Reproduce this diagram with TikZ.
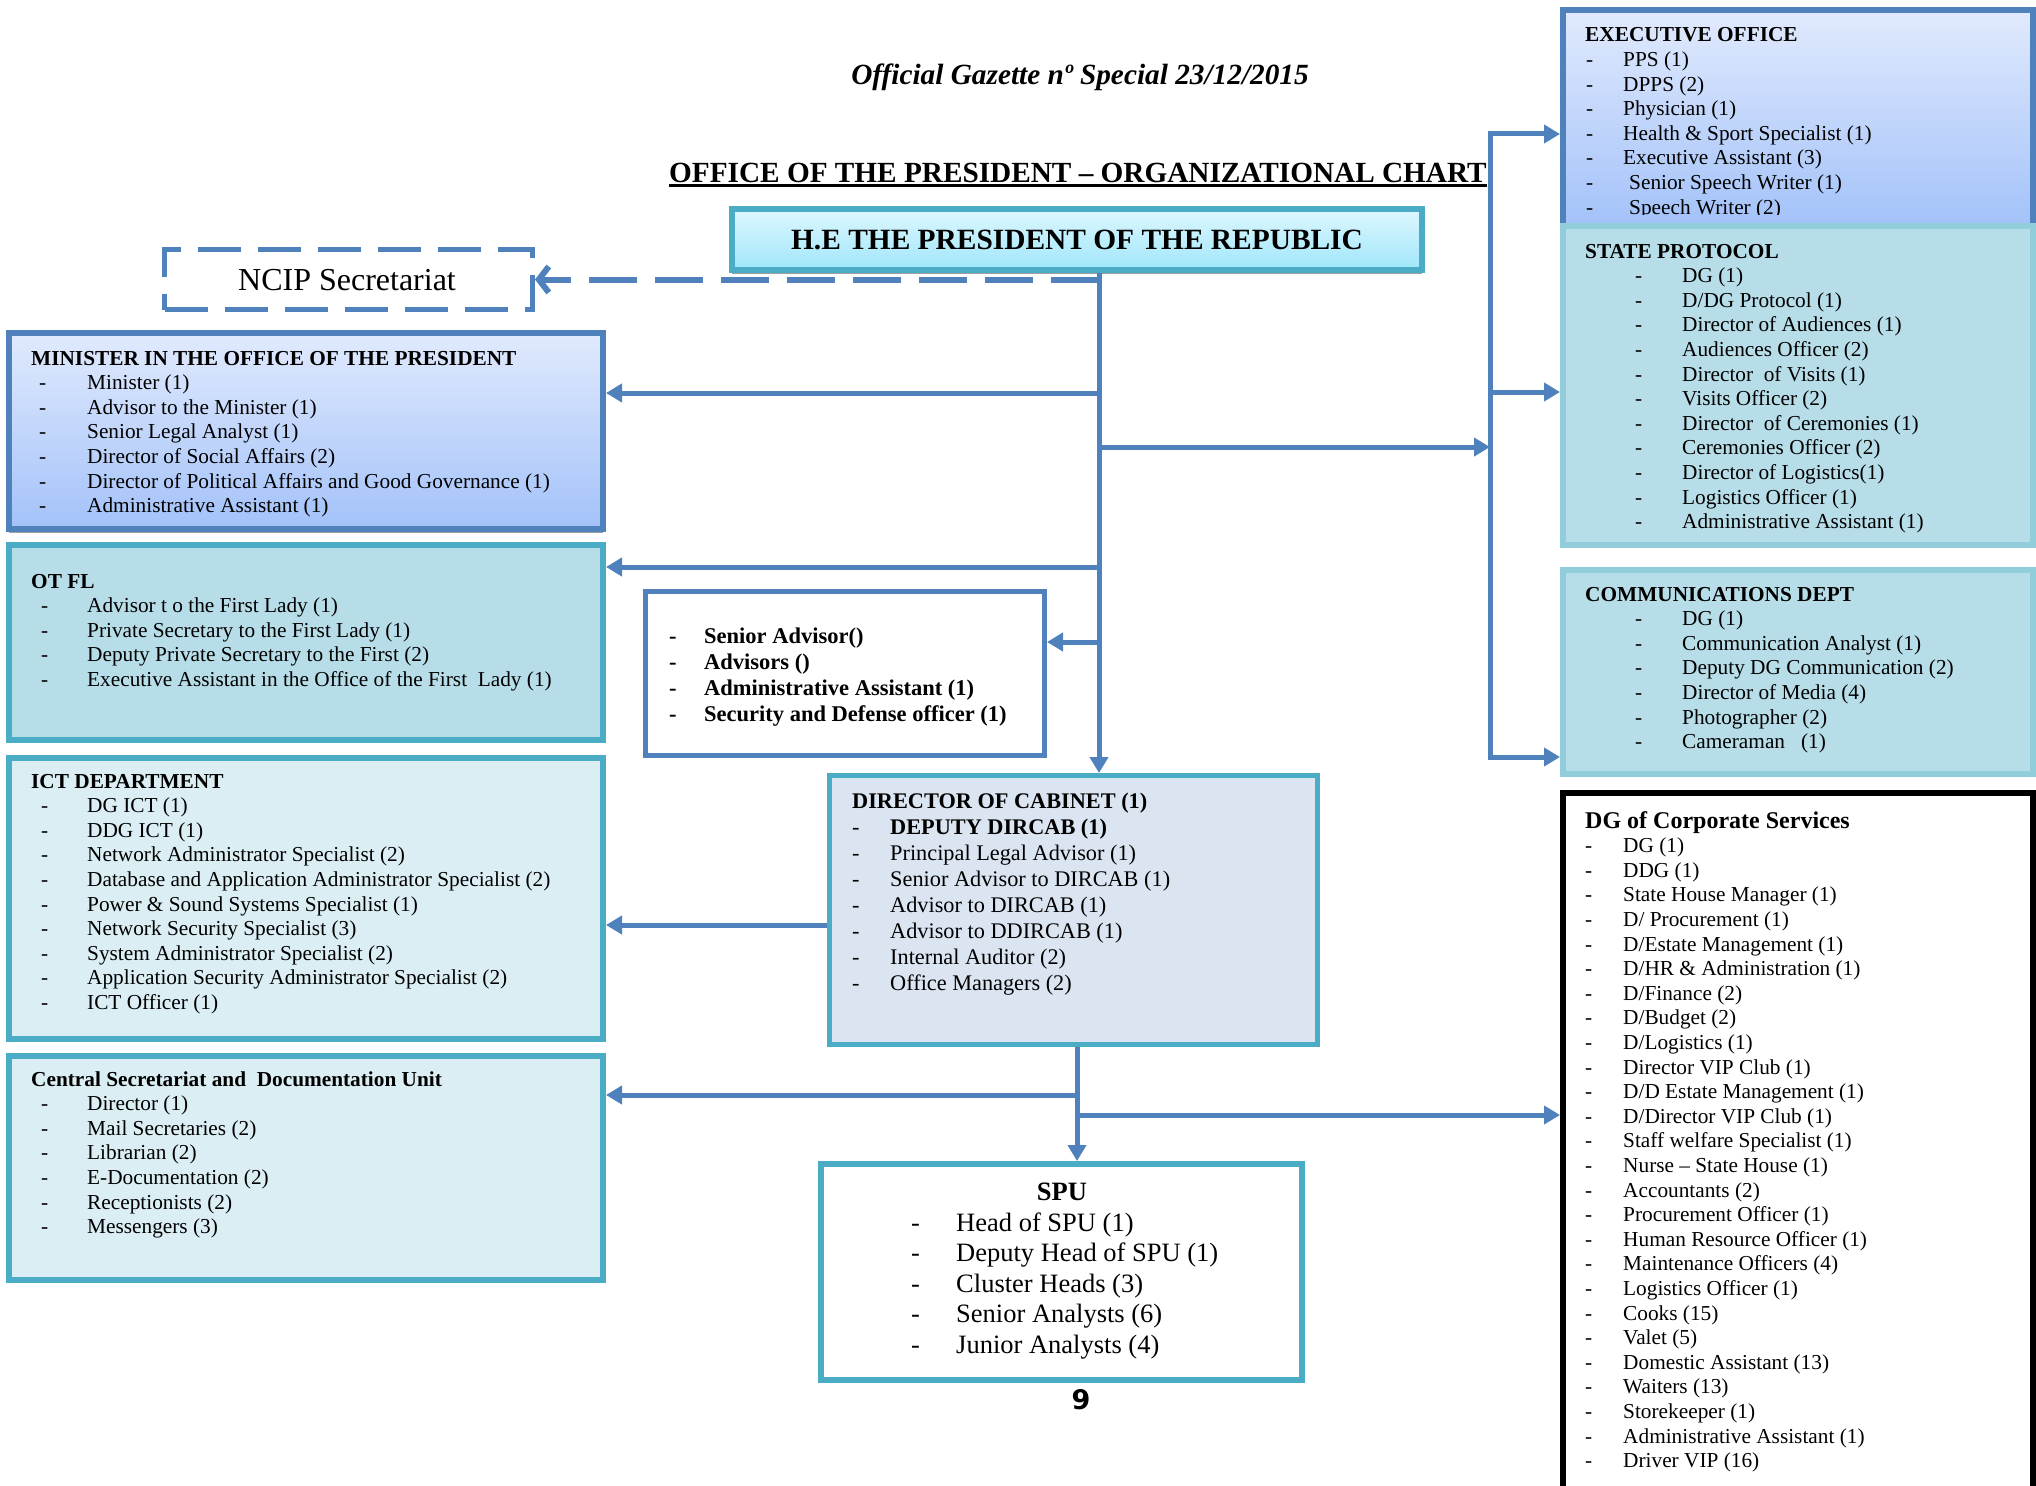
\documentclass[tikz,border=0pt]{standalone}
\usepackage{fontspec}
\setmainfont{Liberation Serif}
\newfontfamily\numfont{DejaVu Sans}
\usetikzlibrary{arrows.meta,shadows}
\definecolor{cblue}{HTML}{4F81BD}
\definecolor{cteal}{HTML}{4BACC6}
\definecolor{clteal}{HTML}{92CDDC}
\definecolor{fteal}{HTML}{B7DDE8}
\definecolor{fpale}{HTML}{DAEEF3}
\definecolor{fdir}{HTML}{DBE5F1}
\definecolor{gtop}{HTML}{E1EAFD}
\definecolor{gbot}{HTML}{A3C2F9}
\definecolor{ptop}{HTML}{DDF7FE}
\definecolor{pbot}{HTML}{A0E6FB}
\tikzset{
  boxbase/.style={rectangle, inner sep=0pt, anchor=north west},
  bluegrad/.style={draw=cblue, top color=gtop, bottom color=gbot},
  presgrad/.style={draw=cteal, top color=ptop, bottom color=pbot},
  sh/.style={drop shadow={shadow xshift=0pt, shadow yshift=-4pt, fill=black!38, opacity=1}},
  line/.style={draw=cblue, line width=5pt},
  conn/.style={line, ->},
  dconn/.style={draw=cblue, line width=6pt, dash pattern=on 48pt off 18pt, -{Straight Barb[length=10pt,width=26pt]}},
  lst/.style={anchor=base west, inner sep=0pt, font=\fontsize{21.3}{24.6}\selectfont},
}
\newcommand\mkbox[7]{\node[boxbase,#2,line width=#7pt,minimum width=#5-#3-#7,minimum height=#6-#4-#7] (#1) at (#3,#4) {};}
\begin{document}
\begin{tikzpicture}[x=1pt,y=-1pt,>={Triangle[length=16pt,width=18pt]}]
\useasboundingbox (0,0) rectangle (2036,1485);
\fill[white] (0,0) rectangle (2036,1485);

% titles
\node[anchor=base, inner sep=0pt, font=\fontsize{29.3}{34}\selectfont\bfseries\itshape] (gaz) at (1080,85) {Official Gazette nº Special 23/12/2015};
\node[anchor=base west, inner sep=0pt, font=\fontsize{29.25}{34}\selectfont\bfseries] (ttl) at (669,182) {OFFICE OF THE PRESIDENT – ORGANIZATIONAL CHART};
\draw[line width=3pt] ([yshift=-3.5pt]ttl.base west) -- ([yshift=-3.5pt]ttl.base east);

% boxes
\mkbox{ncip}{draw=cblue, fill=white, dash pattern=on 43pt off 17pt}{162}{247}{535}{312}{5}
\mkbox{pres}{presgrad, sh}{729}{206}{1425}{273}{6}
\mkbox{min}{bluegrad, sh}{6}{330}{606}{532}{6}
\mkbox{otfl}{draw=cteal, fill=fteal}{6}{542}{606}{743}{6}
\mkbox{ict}{draw=cteal, fill=fpale}{6}{755}{606}{1042}{6}
\mkbox{cs}{draw=cteal, fill=fpale}{6}{1053}{606}{1283}{6}
\mkbox{sa}{draw=cblue, fill=white}{643}{589}{1047}{758}{5}
\mkbox{dir}{draw=cteal, fill=fdir}{827}{773}{1320}{1047}{5}
\mkbox{spu}{draw=cteal, fill=white}{818}{1161}{1305}{1383}{6}
\mkbox{ex}{bluegrad}{1560}{7}{2036}{229}{6}
\mkbox{sp}{draw=clteal, fill=fteal}{1560}{223}{2036}{548}{6}
\mkbox{cm}{draw=clteal, fill=fteal}{1560}{567}{2036}{777}{6}
\mkbox{dg}{draw=black, fill=white}{1560}{790}{2036}{1495}{6}

% box texts
\node[anchor=base, inner sep=0pt, font=\fontsize{32}{36}\selectfont] (ncipT) at (347,290) {NCIP Secretariat};
\node[anchor=base, inner sep=0pt, font=\fontsize{29.4}{34}\selectfont\bfseries] (presT) at (1077,249) {H.E THE PRESIDENT OF THE REPUBLIC};

\node[lst] (minT) at (31,365) {\def\itm{\hspace*{8pt}\makebox[48pt][l]{-}}\begin{tabular}[t]{@{}l@{}}
\textbf{MINISTER IN THE OFFICE OF THE PRESIDENT}\\
\itm Minister (1)\\
\itm Advisor to the Minister (1)\\
\itm Senior Legal Analyst (1)\\
\itm Director of Social Affairs (2)\\
\itm Director of Political Affairs and Good Governance (1)\\
\itm Administrative Assistant (1)
\end{tabular}};

\node[lst] (otflT) at (31,588) {\def\itm{\hspace*{10pt}\makebox[46pt][l]{-}}\begin{tabular}[t]{@{}l@{}}
\textbf{OT FL}\\
\itm Advisor t o the First Lady (1)\\
\itm Private Secretary to the First Lady (1)\\
\itm Deputy Private Secretary to the First (2)\\
\itm Executive Assistant in the Office of the First\ \ Lady (1)
\end{tabular}};

\node[lst] (ictT) at (31,788) {\def\itm{\hspace*{10pt}\makebox[46pt][l]{-}}\begin{tabular}[t]{@{}l@{}}
\textbf{ICT DEPARTMENT}\\
\itm DG ICT (1)\\
\itm DDG ICT (1)\\
\itm Network Administrator Specialist (2)\\
\itm Database and Application Administrator Specialist (2)\\
\itm Power \& Sound Systems Specialist (1)\\
\itm Network Security Specialist (3)\\
\itm System Administrator Specialist (2)\\
\itm Application Security Administrator Specialist (2)\\
\itm ICT Officer (1)
\end{tabular}};

\node[lst] (csT) at (31,1086) {\def\itm{\hspace*{10pt}\makebox[46pt][l]{-}}\begin{tabular}[t]{@{}l@{}}
\textbf{Central Secretariat and\ \ Documentation Unit}\\
\itm Director (1)\\
\itm Mail Secretaries (2)\\
\itm Librarian (2)\\
\itm E-Documentation (2)\\
\itm Receptionists (2)\\
\itm Messengers (3)
\end{tabular}};

\node[lst, font=\fontsize{22.5}{26.3}\selectfont\bfseries] (saT) at (669,643) {\def\itm{\makebox[35pt][l]{-}}\begin{tabular}[t]{@{}l@{}}
\itm Senior Advisor()\\
\itm Advisors ()\\
\itm Administrative Assistant (1)\\
\itm Security and Defense officer (1)
\end{tabular}};

\node[lst, font=\fontsize{22.3}{26}\selectfont] (dirT) at (852,808) {\def\itm{\makebox[38pt][l]{-}}\begin{tabular}[t]{@{}l@{}}
\textbf{DIRECTOR OF CABINET (1)}\\
\itm\textbf{DEPUTY DIRCAB (1)}\\
\itm Principal Legal Advisor (1)\\
\itm Senior Advisor to DIRCAB (1)\\
\itm Advisor to DIRCAB (1)\\
\itm Advisor to DDIRCAB (1)\\
\itm Internal Auditor (2)\\
\itm Office Managers (2)
\end{tabular}};

\node[anchor=base, inner sep=0pt, font=\fontsize{26.5}{30.5}\selectfont\bfseries] (spuH) at (1062,1200) {SPU};
\node[lst, font=\fontsize{26.5}{30.5}\selectfont] (spuT) at (911,1231) {\def\itm{\makebox[45pt][l]{-}}\begin{tabular}[t]{@{}l@{}}
\itm Head of SPU (1)\\
\itm Deputy Head of SPU (1)\\
\itm Cluster Heads (3)\\
\itm Senior Analysts (6)\\
\itm Junior Analysts (4)
\end{tabular}};

\begin{scope}
\clip (1560,0) rectangle (2036,214.5);
\node[lst] (exT) at (1585,42) {\def\itm{\hspace*{1pt}\makebox[37pt][l]{-}}\begin{tabular}[t]{@{}l@{}}
\textbf{EXECUTIVE OFFICE}\\
\itm PPS (1)\\
\itm DPPS (2)\\
\itm Physician (1)\\
\itm Health \& Sport Specialist (1)\\
\itm Executive Assistant (3)\\
\itm\hspace*{6pt}Senior Speech Writer (1)\\
\itm\hspace*{6pt}Speech Writer (2)
\end{tabular}};
\end{scope}

\node[lst] (spT) at (1585,258) {\def\itm{\hspace*{50pt}\makebox[47pt][l]{-}}\begin{tabular}[t]{@{}l@{}}
\textbf{STATE PROTOCOL}\\
\itm DG (1)\\
\itm D/DG Protocol (1)\\
\itm Director of Audiences (1)\\
\itm Audiences Officer (2)\\
\itm Director\ \ of Visits (1)\\
\itm Visits Officer (2)\\
\itm Director\ \ of Ceremonies (1)\\
\itm Ceremonies Officer (2)\\
\itm Director of Logistics(1)\\
\itm Logistics Officer (1)\\
\itm Administrative Assistant (1)
\end{tabular}};

\node[lst] (cmT) at (1585,601) {\def\itm{\hspace*{50pt}\makebox[47pt][l]{-}}\begin{tabular}[t]{@{}l@{}}
\textbf{COMMUNICATIONS DEPT}\\
\itm DG (1)\\
\itm Communication Analyst (1)\\
\itm Deputy DG Communication (2)\\
\itm Director of Media (4)\\
\itm Photographer (2)\\
\itm Cameraman\ \ \ (1)
\end{tabular}};

\node[lst] (dgT) at (1585,828) {\def\itm{\makebox[38pt][l]{-}}\begin{tabular}[t]{@{}l@{}}
{\fontsize{24}{24.6}\selectfont\bfseries DG of Corporate Services}\\
\itm DG (1)\\
\itm DDG (1)\\
\itm State House Manager (1)\\
\itm D/ Procurement (1)\\
\itm D/Estate Management (1)\\
\itm D/HR \& Administration (1)\\
\itm D/Finance (2)\\
\itm D/Budget (2)\\
\itm D/Logistics (1)\\
\itm Director VIP Club (1)\\
\itm D/D Estate Management (1)\\
\itm D/Director VIP Club (1)\\
\itm Staff welfare Specialist (1)\\
\itm Nurse – State House (1)\\
\itm Accountants (2)\\
\itm Procurement Officer (1)\\
\itm Human Resource Officer (1)\\
\itm Maintenance Officers (4)\\
\itm Logistics Officer (1)\\
\itm Cooks (15)\\
\itm Valet (5)\\
\itm Domestic Assistant (13)\\
\itm Waiters (13)\\
\itm Storekeeper (1)\\
\itm Administrative Assistant (1)\\
\itm Driver VIP (16)
\end{tabular}};

\node[anchor=base, inner sep=0pt, font=\numfont\fontsize{27}{30}\selectfont\bfseries] (pg) at (1081,1409) {9};

% connectors
\coordinate (tk) at (1099,0);
\coordinate (rt) at (1490,0);
\coordinate (tb) at (1077,0);
\coordinate (jm) at (1099,393);
\coordinate (jr) at (1099,447);
\coordinate (jo) at (1099,567);
\coordinate (js) at (1099,642);
\coordinate (r1) at (1490,134);
\coordinate (r2) at (1490,392);
\coordinate (r3) at (1490,757);
\coordinate (jd) at (0,925);
\coordinate (jc) at (1077,1095);
\coordinate (jg) at (1077,1115);

\draw[dconn] (tk |- ncip.east) -- (ncip.east);
\draw[conn] (pres.south -| tk) -- (dir.north -| tk);
\draw[conn] (jm) -- (jm -| min.east);
\draw[conn] (jo) -- (jo -| otfl.east);
\draw[conn] (js) -- (js -| sa.east);
\draw[conn] (jr) -- (jr -| rt);
\draw[line, line join=miter, <->] (r1 -| ex.west) -- (r1) -- (r3) -- (r3 -| cm.west);
\draw[conn] (r2) -- (r2 -| sp.west);
\draw[conn] (dir.west |- jd) -- (ict.east |- jd);
\draw[conn] (dir.south -| tb) -- (spu.north -| tb);
\draw[conn] (jc) -- (jc -| cs.east);
\draw[conn] (jg) -- (jg -| dg.west);
\end{tikzpicture}
\end{document}
